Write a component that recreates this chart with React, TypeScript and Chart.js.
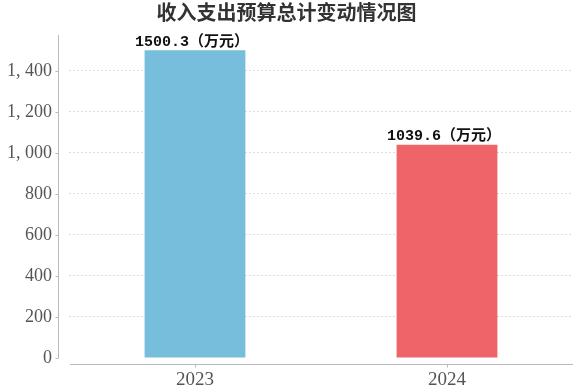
import React, { useEffect, useRef } from "react";
import { Chart, registerables } from "chart.js";

Chart.register(...registerables);

const categories = ["2023", "2024"];
const values = [1500.3, 1039.6];
const barColors = ["#76BEDB", "#EE6469"];
const yTickValues = [0, 200, 400, 600, 800, 1000, 1200, 1400];
const unitSuffix = "（万元）";
const titleText = "收入支出预算总计变动情况图";

const axisPlugin = {
  id: "customAxes",
  afterDraw(chart: any) {
    const { ctx, chartArea } = chart;
    const yScale = chart.scales.y;
    const xScale = chart.scales.x;
    ctx.save();
    ctx.strokeStyle = "#bbbbbb";
    ctx.lineWidth = 1;
    const ax = Math.round(chartArea.left - 11) + 0.5;
    ctx.beginPath();
    ctx.moveTo(ax, chartArea.top);
    ctx.lineTo(ax, chartArea.bottom);
    ctx.stroke();
    yScale.ticks.forEach((t: any) => {
      const y = Math.round(yScale.getPixelForValue(t.value)) + 0.5;
      ctx.beginPath();
      ctx.moveTo(ax - 3, y);
      ctx.lineTo(ax, y);
      ctx.stroke();
    });
    const by = Math.round(chartArea.bottom + 6) + 0.5;
    ctx.beginPath();
    ctx.moveTo(chartArea.left + 1, by);
    ctx.lineTo(chartArea.right, by);
    ctx.stroke();
    categories.forEach((_, i) => {
      const x = Math.round(xScale.getPixelForValue(i)) + 0.5;
      ctx.beginPath();
      ctx.moveTo(x, by);
      ctx.lineTo(x, by + 3);
      ctx.stroke();
    });
    ctx.restore();
  },
};

const labelPlugin = {
  id: "barLabels",
  afterDatasetsDraw(chart: any) {
    const { ctx } = chart;
    const meta = chart.getDatasetMeta(0);
    ctx.save();
    ctx.font = "bold 15px 'Liberation Mono', 'Noto Sans CJK SC'";
    ctx.fillStyle = "#111111";
    ctx.textAlign = "center";
    ctx.textBaseline = "bottom";
    meta.data.forEach((el: any, i: number) => {
      ctx.fillText(values[i].toFixed(1) + unitSuffix, el.x - 3, el.y - 1);
    });
    ctx.restore();
  },
};

export default function App() {
  const ref = useRef<HTMLCanvasElement>(null);
  useEffect(() => {
    if (!ref.current) return;
    const chart = new Chart(ref.current, {
      type: "bar",
      data: {
        labels: categories,
        datasets: [
          {
            data: values,
            backgroundColor: barColors,
            categoryPercentage: 0.8,
            barPercentage: 0.5,
          },
        ],
      },
      options: {
        responsive: false,
        animation: false,
        layout: { padding: { top: 0, right: 3, left: 0, bottom: 0 } },
        plugins: {
          legend: { display: false },
          tooltip: { enabled: false },
          title: {
            display: true,
            text: titleText,
            color: "#333333",
            font: { family: "'Noto Sans CJK SC'", size: 20, weight: "bold" },
            padding: { top: 0, bottom: 11 },
          },
        },
        scales: {
          x: {
            grid: { display: false, drawTicks: false },
            border: { display: false },
            ticks: {
              color: "#555555",
              font: { family: "'Liberation Serif'", size: 19 },
              padding: 11,
            },
            afterFit(scale: any) {
              scale.height = 34;
            },
          },
          y: {
            min: 0,
            max: 1575,
            grid: {
              drawTicks: false,
              color: (c: any) => (c.tick && c.tick.value === 0 ? "rgba(0,0,0,0)" : "#dddddd"),
            },
            border: { display: false, dash: [2, 2] },
            afterBuildTicks(scale: any) {
              scale.ticks = yTickValues.map((v) => ({ value: v }));
            },
            ticks: {
              color: "#555555",
              font: { family: "'Liberation Serif'", size: 18 },
              padding: 17,
              callback: (v: any) => Number(v).toLocaleString("en-US").replace(",", ", "),
            },
            afterFit(scale: any) {
              scale.width = 69;
            },
          },
        },
      },
      plugins: [axisPlugin, labelPlugin],
    });
    return () => chart.destroy();
  }, []);
  return (
    <div style={{ position: "fixed", left: 0, top: 0, width: 576, height: 392, background: "#fff" }}>
      <canvas ref={ref} width={576} height={392} />
    </div>
  );
}
